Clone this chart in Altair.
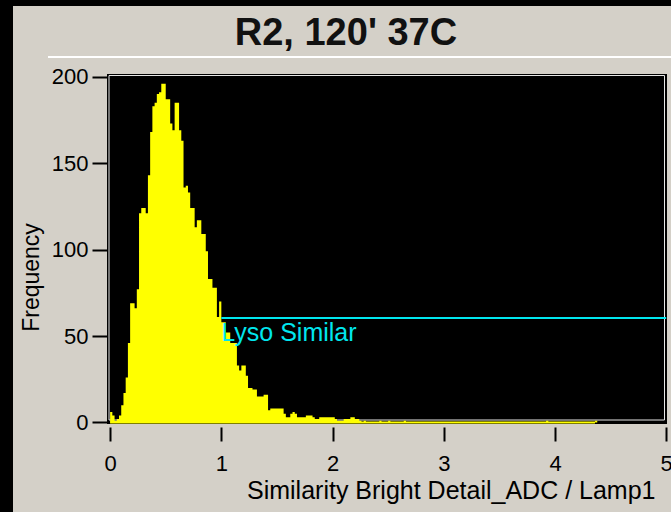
import altair as alt
import pandas as pd

# Histogram of the similarity score, 0.02-wide bins
BIN_WIDTH = 0.02
bin_start = [
    0.00, 0.02, 0.04, 0.06, 0.08, 0.10, 0.12, 0.14, 0.16, 0.18,
    0.20, 0.22, 0.24, 0.26, 0.28, 0.30, 0.32, 0.34, 0.36, 0.38,
    0.40, 0.42, 0.44, 0.46, 0.48, 0.50, 0.52, 0.54, 0.56, 0.58,
    0.60, 0.62, 0.64, 0.66, 0.68, 0.70, 0.72, 0.74, 0.76, 0.78,
    0.80, 0.82, 0.84, 0.86, 0.88, 0.90, 0.92, 0.94, 0.96, 0.98,
    1.00, 1.02, 1.04, 1.06, 1.08, 1.10, 1.12, 1.14, 1.16, 1.18,
    1.20, 1.22, 1.24, 1.26, 1.28, 1.30, 1.32, 1.34, 1.36, 1.38,
    1.40, 1.42, 1.44, 1.46, 1.48, 1.50, 1.52, 1.54, 1.56, 1.58,
    1.60, 1.62, 1.64, 1.66, 1.68, 1.70, 1.72, 1.74, 1.76, 1.78,
    1.80, 1.82, 1.84, 1.86, 1.88, 1.90, 1.92, 1.94, 1.96, 1.98,
    2.00, 2.02, 2.04, 2.06, 2.08, 2.10, 2.12, 2.14, 2.16, 2.18,
    2.20, 2.22, 2.24, 2.28, 2.42, 2.50, 2.64, 3.92, 4.36,
]
counts = [
    6, 4, 1, 2, 4, 10, 17, 26, 46, 69,
    69, 66, 77, 121, 124, 124, 121, 143, 168, 183,
    185, 190, 191, 196, 196, 187, 187, 173, 169, 185,
    185, 169, 163, 136, 137, 133, 124, 124, 113, 117,
    117, 109, 109, 99, 83, 83, 78, 78, 61, 70,
    58, 58, 52, 52, 46, 46, 46, 33, 30, 33,
    33, 27, 20, 20, 19, 19, 15, 15, 15, 16,
    16, 7, 8, 8, 8, 8, 8, 8, 5, 3,
    3, 5, 6, 5, 3, 3, 3, 3, 4, 4,
    4, 3, 2, 2, 3, 3, 3, 3, 3, 3,
    3, 2, 1, 1, 1, 2, 2, 2, 3, 3,
    2, 2, 1, 1, 1, 1, 1, 1, 1,
]

# "Lyso Similar" gate
gate_x = [1.0, 5.0]
gate_count = 60.5
gate_label = "Lyso Similar"

x_ticks = [0, 1, 2, 3, 4, 5]
y_ticks = [0, 50, 100, 150, 200]

chart_title = "R2, 120' 37C"

FONT = "Liberation Sans"
W, H = 560, 350

# Step outline of the histogram: each bin holds its count until the next
# edge; empty stretches between occupied bins drop back to zero.
step_x, step_y = [], []
prev_end = None
for s, c in zip(bin_start, counts):
    if prev_end is not None and s - prev_end > 1e-9:
        step_x.append(prev_end)
        step_y.append(0)
    step_x.append(s)
    step_y.append(c)
    prev_end = s + BIN_WIDTH
step_x.append(prev_end)
step_y.append(0)
steps = pd.DataFrame({"x": step_x, "count": step_y})

x_scale = alt.Scale(domain=[-0.028, 5.007], nice=False, zero=False)
y_scale = alt.Scale(domain=[-0.9, 201.6], nice=False, zero=False)

one = pd.DataFrame({"k": [0]})
base = alt.Chart(one)

# window decorations: dark strips on the left/top edges and the rule under the title
left_strip = base.mark_rect(color="black").encode(
    x=alt.value(-107), x2=alt.value(-94), y=alt.value(-74), y2=alt.value(438)
)
top_strip = base.mark_rect(color="black").encode(
    x=alt.value(-107), x2=alt.value(564), y=alt.value(-74), y2=alt.value(-68)
)
title_rule = base.mark_rule(color="white", strokeWidth=2).encode(
    x=alt.value(-59), x2=alt.value(564), y=alt.value(-17)
)
title_text = alt.Chart(pd.DataFrame({"t": [chart_title]})).mark_text(
    font=FONT, fontSize=38, fontWeight="bold", color="#111111",
    align="center", baseline="alphabetic",
).encode(x=alt.value(239), y=alt.value(-29), text="t:N")

inner_frame = base.mark_rect(fill=None, stroke="#e6e6e6", strokeWidth=1).encode(
    x=alt.value(2), x2=alt.value(W - 2.5), y=alt.value(1.5), y2=alt.value(H - 4)
)

hist = alt.Chart(steps).mark_area(
    interpolate="step-after", color="#ffff00", opacity=1
).encode(
    x=alt.X(
        "x:Q",
        scale=x_scale,
        axis=alt.Axis(
            values=x_ticks,
            format="d",
            domain=False,
            grid=False,
            offset=3,
            tickSize=14,
            tickWidth=2,
            tickColor="black",
            labelFont=FONT,
            labelFontSize=22,
            labelColor="black",
            labelPadding=12,
            labelFlush=False,
            title="Similarity Bright Detail_ADC / Lamp1",
            titleFont=FONT,
            titleFontSize=25,
            titleFontWeight="normal",
            titleColor="black",
            titleAlign="right",
            titleAnchor="end",
            titleBaseline="alphabetic",
            titleX=548,
            titleY=71,
        ),
    ),
    y=alt.Y(
        "count:Q",
        scale=y_scale,
        axis=alt.Axis(
            values=y_ticks,
            domain=False,
            grid=False,
            tickSize=15,
            tickWidth=2,
            tickColor="black",
            labelFont=FONT,
            labelFontSize=22,
            labelColor="black",
            labelPadding=4,
            title="Frequency",
            titleFont=FONT,
            titleFontSize=23,
            titleFontWeight="normal",
            titleColor="black",
            titleAngle=270,
            titleAlign="center",
            titleBaseline="middle",
            titleX=-76,
            titleY=203,
        ),
    ),
    y2=alt.datum(0),
)

baseline = alt.Chart(
    pd.DataFrame({"x0": [min(bin_start)], "x1": [max(bin_start)], "y": [0]})
).mark_rule(color="#ffff00", strokeWidth=2).encode(
    x=alt.X("x0:Q", scale=x_scale), x2="x1:Q", y=alt.Y("y:Q", scale=y_scale)
)

gate = pd.DataFrame({"x0": [gate_x[0]], "x1": [gate_x[1]], "y": [gate_count], "label": [gate_label]})
gate_line = alt.Chart(gate).mark_rule(color="#00e6ee", strokeWidth=2).encode(
    x=alt.X("x0:Q", scale=x_scale), x2="x1:Q", y=alt.Y("y:Q", scale=y_scale)
)
gate_text = alt.Chart(gate).mark_text(
    color="#00e6ee", font=FONT, fontSize=25, align="left", baseline="top", dx=0, dy=3
).encode(
    x=alt.X("x0:Q", scale=x_scale), y=alt.Y("y:Q", scale=y_scale), text="label:N"
)

chart = alt.layer(
    left_strip, top_strip, title_rule, title_text, inner_frame,
    hist, baseline, gate_line, gate_text,
).properties(
    width=W,
    height=H,
    autosize=alt.AutoSizeParams(type="none"),
    padding={"left": 107, "top": 74, "right": 4, "bottom": 88},
    background="#d4d0c8",
).configure_view(fill="black", stroke=None)

chart.save("out.html", embed_options={"renderer": "svg", "actions": False})
